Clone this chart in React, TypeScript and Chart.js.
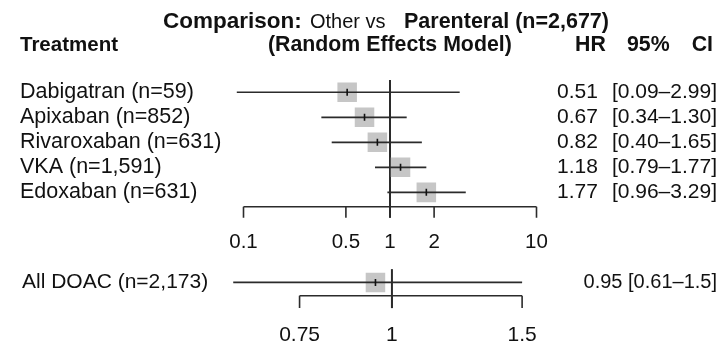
import React, { useEffect, useRef } from 'react';
import { Chart, registerables } from 'chart.js';

Chart.register(...registerables);

// ---- data ----
const treatments = ['Dabigatran (n=59)', 'Apixaban (n=852)', 'Rivaroxaban (n=631)', 'VKA (n=1,591)', 'Edoxaban (n=631)'];
const hr = [0.51, 0.67, 0.82, 1.18, 1.77];
const ciLow = [0.09, 0.34, 0.40, 0.79, 0.96];
const ciHigh = [2.99, 1.30, 1.65, 1.77, 3.29];
const hrText = ['0.51', '0.67', '0.82', '1.18', '1.77'];
const ciText = ['[0.09–2.99]', '[0.34–1.30]', '[0.40–1.65]', '[0.79–1.77]', '[0.96–3.29]'];

const pooledLabel = 'All DOAC (n=2,173)';
const pooledHr = [0.95];
const pooledLow = [0.61];
const pooledHigh = [1.5];
const pooledText = '0.95 [0.61–1.5]';

const topTicks = [0.1, 0.5, 1, 2, 10];
const topTickLabels = ['0.1', '0.5', '1', '2', '10'];
const bottomTicks = [0.75, 1, 1.5];
const bottomTickLabels = ['0.75', '1', '1.5'];

// ---- layout (row positions on the y scale) ----
const ROWS = [1, 2, 3, 4, 5];
const POOLED_ROW = 8.6;

const FONT = '"Liberation Sans", Arial, Helvetica, sans-serif';
const LINE = '#2b2b2b';
const BOX = '#c6c6c6';

const decor = {
  id: 'forestDecor',
  beforeDatasetsDraw(chart: any) {
    const { ctx } = chart;
    const xs = chart.scales.x;
    const xb = chart.scales.x2;
    const ys = chart.scales.y;
    ctx.save();
    ctx.strokeStyle = LINE;
    ctx.fillStyle = '#111';
    ctx.lineCap = 'butt';

    const firstY = ys.getPixelForValue(ROWS[0]);
    const lastY = ys.getPixelForValue(ROWS[ROWS.length - 1]);
    const axisY = lastY + 14.4;
    const tickEnd = axisY + 11;
    const x1 = xs.getPixelForValue(1);
    ctx.lineWidth = 2;
    ctx.beginPath();
    ctx.moveTo(x1, firstY - 12.3);
    ctx.lineTo(x1, tickEnd);
    ctx.stroke();
    ctx.lineWidth = 1.6;
    ctx.beginPath();
    ctx.moveTo(xs.getPixelForValue(topTicks[0]), axisY);
    ctx.lineTo(xs.getPixelForValue(topTicks[topTicks.length - 1]), axisY);
    topTicks.forEach((t) => {
      const px = xs.getPixelForValue(t);
      ctx.moveTo(px, axisY);
      ctx.lineTo(px, tickEnd);
    });
    ctx.stroke();
    ctx.font = '20.5px ' + FONT;
    ctx.textAlign = 'center';
    ctx.textBaseline = 'middle';
    topTicks.forEach((t, i) => {
      ctx.fillText(topTickLabels[i], xs.getPixelForValue(t), tickEnd + 24.5);
    });

    const pY = ys.getPixelForValue(POOLED_ROW);
    const bAxisY = pY + 13.4;
    const bTickEnd = bAxisY + 12.3;
    const xb1 = xb.getPixelForValue(1);
    ctx.lineWidth = 2;
    ctx.beginPath();
    ctx.moveTo(xb1, pY - 13.3);
    ctx.lineTo(xb1, bTickEnd);
    ctx.stroke();
    ctx.lineWidth = 1.6;
    ctx.beginPath();
    ctx.moveTo(xb.getPixelForValue(bottomTicks[0]), bAxisY);
    ctx.lineTo(xb.getPixelForValue(bottomTicks[bottomTicks.length - 1]), bAxisY);
    bottomTicks.forEach((t) => {
      const px = xb.getPixelForValue(t);
      ctx.moveTo(px, bAxisY);
      ctx.lineTo(px, bTickEnd);
    });
    ctx.stroke();
    ctx.font = '21px ' + FONT;
    bottomTicks.forEach((t, i) => {
      ctx.fillText(bottomTickLabels[i], xb.getPixelForValue(t), bTickEnd + 27);
    });
    ctx.restore();
  },
  afterDraw(chart: any) {
    const { ctx } = chart;
    const ys = chart.scales.y;
    ctx.save();
    ctx.fillStyle = '#111';
    ctx.textBaseline = 'alphabetic';
    ctx.textAlign = 'left';

    ctx.font = 'bold 22.5px ' + FONT;
    ctx.fillText('Comparison:', 163, 28);
    ctx.font = '20px ' + FONT;
    ctx.fillText('Other vs', 310, 28);
    ctx.font = 'bold 21.5px ' + FONT;
    ctx.fillText('Parenteral (n=2,677)', 404, 28);

    ctx.font = 'bold 20.5px ' + FONT;
    ctx.fillText('Treatment', 20, 50.5);
    ctx.font = 'bold 21.3px ' + FONT;
    ctx.fillText('(Random Effects Model)', 268, 50.5);
    ctx.fillText('HR', 575, 50.5);
    ctx.fillText('95%', 627, 50.5);
    ctx.textAlign = 'right';
    ctx.fillText('CI', 713, 50.5);

    ctx.font = '21.5px ' + FONT;
    ctx.textBaseline = 'middle';
    treatments.forEach((t, i) => {
      const py = ys.getPixelForValue(ROWS[i]);
      ctx.textAlign = 'left';
      ctx.fillText(t, 20, py);
    });
    ctx.font = '21px ' + FONT;
    treatments.forEach((t, i) => {
      const py = ys.getPixelForValue(ROWS[i]);
      ctx.textAlign = 'left';
      ctx.fillText(hrText[i], 557, py);
      ctx.textAlign = 'right';
      ctx.fillText(ciText[i], 717, py);
    });
    const pY = ys.getPixelForValue(POOLED_ROW);
    ctx.textAlign = 'left';
    ctx.font = '21px ' + FONT;
    ctx.fillText(pooledLabel, 22, pY);
    ctx.font = '20px ' + FONT;
    ctx.textAlign = 'right';
    ctx.fillText(pooledText, 717, pY);
    ctx.restore();
  },
};

export default function App() {
  const ref = useRef<HTMLCanvasElement | null>(null);

  useEffect(() => {
    if (!ref.current) return;
    const ciSets = treatments.map((_, i) => ({
      data: [
        { x: ciLow[i], y: ROWS[i] },
        { x: ciHigh[i], y: ROWS[i] },
      ],
      showLine: true,
      borderColor: LINE,
      borderWidth: 1.6,
      pointRadius: 0,
      xAxisID: 'x',
      yAxisID: 'y',
      order: 1,
    }));
    const pooledCi = {
      data: [
        { x: pooledLow[0], y: POOLED_ROW },
        { x: pooledHigh[0], y: POOLED_ROW },
      ],
      showLine: true,
      borderColor: LINE,
      borderWidth: 1.6,
      pointRadius: 0,
      xAxisID: 'x2',
      yAxisID: 'y',
      order: 1,
    };
    const boxes = {
      data: hr.map((v, i) => ({ x: v, y: ROWS[i] })),
      pointStyle: 'rect',
      pointRadius: 13.8,
      backgroundColor: BOX,
      borderWidth: 0,
      xAxisID: 'x',
      yAxisID: 'y',
      order: 2,
    };
    const pooledBox = {
      data: pooledHr.map((v) => ({ x: v, y: POOLED_ROW })),
      pointStyle: 'rect',
      pointRadius: 13.8,
      backgroundColor: BOX,
      borderWidth: 0,
      xAxisID: 'x2',
      yAxisID: 'y',
      order: 2,
    };
    const marks = {
      data: hr.map((v, i) => ({ x: v, y: ROWS[i] })),
      pointStyle: 'line',
      rotation: 90,
      pointRadius: 3.5,
      borderColor: '#111',
      borderWidth: 1.6,
      xAxisID: 'x',
      yAxisID: 'y',
      order: 0,
    };
    const pooledMark = {
      data: pooledHr.map((v) => ({ x: v, y: POOLED_ROW })),
      pointStyle: 'line',
      rotation: 90,
      pointRadius: 3.5,
      borderColor: '#111',
      borderWidth: 1.6,
      xAxisID: 'x2',
      yAxisID: 'y',
      order: 0,
    };

    const chart = new Chart(ref.current, {
      type: 'scatter',
      data: { datasets: [...ciSets, pooledCi, boxes, pooledBox, marks, pooledMark] as any },
      plugins: [decor],
      options: {
        animation: false,
        responsive: false,
        devicePixelRatio: 1,
        layout: { padding: { left: 199.4, right: 165.7, top: 67.3, bottom: 0.7 } },
        plugins: { legend: { display: false }, tooltip: { enabled: false }, title: { display: false } },
        scales: {
          x: { type: 'logarithmic', min: 0.05, max: 15, bounds: 'data', display: false },
          x2: { type: 'logarithmic', min: 0.549, max: 1.7, bounds: 'data', display: false, position: 'bottom' },
          y: { type: 'linear', min: 0, max: 10.47, reverse: true, display: false },
        },
      } as any,
    });
    return () => chart.destroy();
  }, []);

  return (
    <div style={{ position: 'fixed', left: 0, top: 0, width: 728, height: 343, background: '#fff' }}>
      <canvas ref={ref} width={728} height={343} style={{ width: 728, height: 343, display: 'block' }} />
    </div>
  );
}
